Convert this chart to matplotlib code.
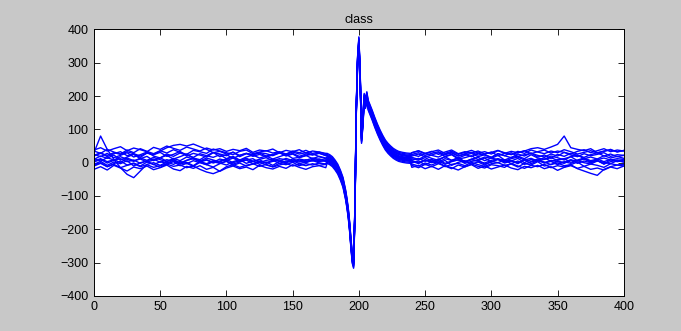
import matplotlib
matplotlib.use("Agg")
import matplotlib.pyplot as plt
import numpy as np

# sample positions (before spike, spike window, after spike)
pre_x = list(range(0, 180, 5))
post_x = list(range(240, 405, 5))
spike_x = [176, 178, 180, 182, 184, 186, 188, 190, 191, 192, 193, 194, 195, 196,
           197, 198, 199, 200, 201, 202, 203, 204, 205, 206, 207, 208, 210, 212,
           214, 216, 218, 220, 222, 224, 226, 228, 230, 233, 236, 239]

# common spike shape
spike_y = [10, 6, 0, -10, -22, -40, -62, -100, -125, -155, -195, -245, -290, -305,
           -150, 150, 300, 360, 250, 70, 120, 190, 175, 195, 170, 160, 140, 118,
           98, 80, 64, 50, 40, 32, 25, 20, 16, 13, 11, 10]

# per-trace shift of the spike part
spike_shift = [3, 12, -9, 0, 8, -4, 15, -12, 5, -2, 18, -6, 10, 2]

# baseline before the spike, one row per trace
pre_traces = [
    [30, 80, 40, 10, -15, -35, -45, -25, -5, 0, -8, 2, -5, 4, -3, 6, 0, -6, 3, -2, 5, -4, 2, 8, -3, 4, 0, 7, -2, 5, 1, 8, 3, 10, 6, 4],
    [20, 28, 22, 30, 25, 33, 27, 20, 29, 24, 35, 45, 52, 55, 50, 56, 48, 40, 30, 34, 26, 31, 22, 28, 24, 30, 27, 21, 29, 25, 32, 26, 30, 24, 28, 22],
    [-10, -2, -12, -5, -15, -8, -3, -12, -6, -14, -9, -4, -11, -7, -15, -10, -20, -28, -33, -25, -12, -6, -14, -8, -3, -11, -5, -13, -7, -2, -10, -4, -9, -3, -8, -5],
    [12, 5, 15, 8, 18, 10, 4, 14, 7, 16, 9, 3, 13, 6, 17, 11, 5, 14, 8, 2, 12, 16, 7, 13, 4, 10, 15, 6, 12, 9, 3, 11, 7, 14, 10, 6],
    [25, 18, 28, 15, 22, 30, 17, 24, 32, 20, 14, 26, 19, 29, 23, 16, 27, 21, 31, 18, 24, 13, 22, 28, 19, 25, 17, 23, 30, 20, 26, 15, 21, 27, 18, 12],
    [-5, 4, -8, 2, -3, 6, -10, 0, 5, -6, 3, -2, 8, -4, 1, -9, 4, -3, 6, -1, -7, 3, 9, -2, 5, -5, 2, -8, 4, 0, 6, -3, 2, 7, -1, -4],
    [35, 28, 40, 32, 26, 38, 30, 42, 34, 27, 36, 29, 39, 31, 25, 37, 33, 28, 41, 35, 30, 24, 34, 38, 27, 32, 36, 29, 33, 26, 35, 30, 37, 28, 32, 25],
    [-20, -12, -22, -8, -16, -25, -13, -18, -10, -21, -15, -7, -19, -24, -11, -17, -9, -20, -14, -26, -16, -10, -18, -13, -21, -8, -15, -19, -11, -17, -6, -14, -20, -12, -9, -15],
    [10, 20, 13, 23, 8, 17, 25, 12, 19, 6, 15, 22, 11, 18, 26, 14, 9, 21, 16, 24, 12, 19, 8, 17, 23, 14, 20, 11, 18, 25, 13, 16, 22, 12, 19, 14],
    [2, 10, -1, 7, 12, 3, 8, -2, 6, 11, 1, 9, 4, -3, 7, 13, 2, 8, -1, 5, 10, 0, 6, 12, 3, 9, -2, 4, 8, 1, 11, 5, 0, 7, 3, 8],
    [38, 45, 35, 42, 48, 36, 44, 39, 33, 46, 40, 50, 43, 37, 47, 41, 35, 44, 38, 42, 34, 40, 36, 43, 31, 38, 35, 41, 30, 37, 33, 39, 29, 35, 32, 28],
    [-8, 0, -12, -3, 5, -7, -1, -10, 2, -5, -14, -4, 3, -9, -2, -11, 1, -6, -13, -3, 4, -8, -1, -10, -4, 2, -7, -12, -2, -6, 1, -9, -3, -7, -1, -5],
    [22, 30, 18, 27, 33, 21, 26, 16, 29, 24, 31, 19, 25, 34, 20, 28, 23, 17, 30, 26, 21, 32, 18, 27, 24, 29, 20, 25, 31, 22, 28, 19, 26, 23, 29, 21],
    [5, 12, 3, 9, 0, 14, 6, 11, 2, 8, 15, 4, 10, -1, 7, 13, 5, 9, 1, 11, 6, 14, 3, 8, 12, 0, 7, 10, 4, 13, 6, 2, 9, 5, 11, 7],
]

# baseline after the spike
post_traces = [
    [5, -3, 8, 0, 6, -5, 3, 9, -2, 4, 7, -4, 2, 10, -1, 5, 0, 8, -3, 6, 2, -6, 4, 1, 9, -2, 5, 0, 7, -4, 3, 8, 2],
    [25, 30, 22, 28, 33, 24, 29, 20, 27, 31, 23, 26, 32, 21, 28, 25, 30, 35, 42, 45, 40, 47, 55, 80, 45, 40, 36, 42, 30, 35, 38, 33, 36],
    [-8, -15, -5, -12, -3, -10, -18, -7, -13, -4, -11, -16, -6, -9, -14, -2, -10, -17, -8, -12, -5, -15, -9, -13, -6, -18, -25, -32, -38, -20, -12, -7, -10],
    [12, 8, 15, 5, 10, 18, 7, 13, 3, 11, 16, 6, 14, 9, 4, 12, 17, 8, 13, 5, 10, 15, 7, 12, 18, 6, 11, 3, 9, 14, 8, 12, 10],
    [20, 26, 17, 23, 30, 19, 25, 14, 22, 28, 18, 24, 16, 27, 21, 15, 26, 20, 29, 17, 23, 13, 25, 19, 28, 22, 16, 24, 30, 20, 26, 18, 22],
    [0, 5, -6, 3, -2, 7, -8, 1, 6, -4, 2, -7, 4, 0, 8, -3, 5, -5, 2, 7, -1, 4, -6, 3, -2, 6, 0, -4, 5, 1, -3, 6, 2],
    [30, 35, 27, 33, 38, 28, 34, 25, 31, 37, 29, 33, 26, 36, 30, 24, 34, 28, 38, 32, 27, 35, 30, 39, 33, 26, 31, 36, 29, 34, 40, 32, 37],
    [-14, -8, -18, -11, -20, -9, -15, -22, -12, -6, -17, -10, -19, -13, -7, -16, -21, -11, -15, -8, -18, -12, -23, -14, -9, -17, -11, -20, -16, -22, -13, -18, -10],
    [16, 10, 20, 13, 7, 18, 24, 11, 15, 21, 9, 17, 13, 22, 8, 16, 19, 12, 24, 14, 10, 20, 15, 8, 18, 23, 12, 17, 11, 21, 14, 19, 13],
    [6, 0, 9, 3, 11, -2, 5, 8, 1, 10, 4, -1, 7, 12, 2, 6, -3, 9, 4, 11, 0, 7, 3, -2, 8, 5, 12, 1, 6, -4, 9, 3, 7],
    [30, 36, 28, 34, 25, 32, 38, 27, 33, 29, 35, 26, 31, 37, 28, 34, 30, 36, 27, 33, 38, 29, 35, 31, 26, 34, 39, 30, 36, 42, 33, 38, 35],
    [-4, -10, -1, -7, 2, -12, -5, -2, -9, 1, -6, -11, -3, 0, -8, -4, -13, -2, -7, 3, -10, -5, -1, -9, -6, 2, -11, -4, -8, -14, -3, -7, -5],
    [24, 19, 28, 22, 17, 26, 31, 20, 25, 18, 29, 23, 16, 27, 21, 30, 19, 24, 28, 22, 17, 26, 20, 31, 23, 18, 27, 21, 25, 30, 19, 24, 22],
    [8, 13, 4, 10, 1, 12, 7, 15, 3, 9, 6, 14, 2, 11, 8, 5, 13, 0, 10, 7, 15, 4, 9, 12, 1, 8, 14, 6, 11, 3, 10, 5, 9],
]

x_ticks = [0, 50, 100, 150, 200, 250, 300, 350, 400]
y_ticks = [-400, -300, -200, -100, 0, 100, 200, 300, 400]

plt.rcParams['font.family'] = ['Liberation Sans', 'DejaVu Sans']

fig = plt.figure(figsize=(6.81, 3.31), dpi=100, facecolor='#c8c8c8')
ax = fig.add_axes([0.138, 0.106, 0.778, 0.805])

xs = np.array(pre_x + spike_x + post_x)
for pre, shift, post in zip(pre_traces, spike_shift, post_traces):
    ys = np.concatenate([pre, np.array(spike_y) + shift, post])
    ax.plot(xs, ys, color='#0000ff', linewidth=1.0)

ax.set_xlim(0, 400)
ax.set_ylim(-400, 400)
ax.set_xticks(x_ticks)
ax.set_yticks(y_ticks)
ax.tick_params(direction='in', top=True, right=True, length=4, width=0.6,
               labelsize=9, pad=4)
for s in ax.spines.values():
    s.set_linewidth(0.7)
ax.set_title('class', fontsize=9, pad=5)

fig.savefig('out.png', dpi=100, facecolor=fig.get_facecolor())
